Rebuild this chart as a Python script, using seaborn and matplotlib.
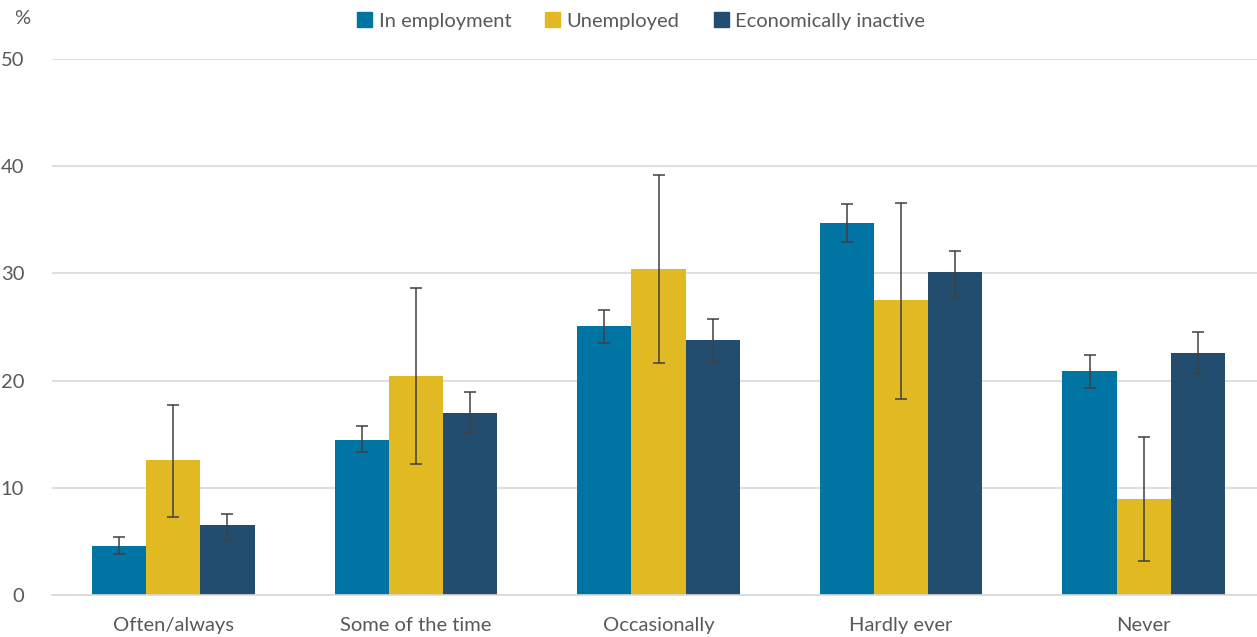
import matplotlib
matplotlib.use("Agg")
import matplotlib.pyplot as plt
import seaborn as sns
import pandas as pd
import numpy as np

categories = ["Often/always", "Some of the time", "Occasionally", "Hardly ever", "Never"]
groups = ["In employment", "Unemployed", "Economically inactive"]

employed = [4.6, 14.5, 25.1, 34.7, 20.9]
employed_low = [3.8, 13.3, 23.5, 32.9, 19.3]
employed_high = [5.4, 15.8, 26.6, 36.5, 22.4]

unemployed = [12.6, 20.4, 30.4, 27.5, 9.0]
unemployed_low = [7.3, 12.2, 21.6, 18.3, 3.2]
unemployed_high = [17.7, 28.6, 39.2, 36.6, 14.7]

inactive = [6.5, 17.0, 23.8, 30.1, 22.6]
inactive_low = [5.1, 15.1, 21.7, 27.9, 20.6]
inactive_high = [7.6, 18.9, 25.7, 32.1, 24.5]

colors = ["#0074A3", "#E1BA23", "#224D6F"]
text_col = "#595959"

rows = []
for g, vals, lo, hi in zip(groups,
                           [employed, unemployed, inactive],
                           [employed_low, unemployed_low, inactive_low],
                           [employed_high, unemployed_high, inactive_high]):
    for c, v, l, h in zip(categories, vals, lo, hi):
        rows.append({"category": c, "group": g, "value": v, "low": l, "high": h})
df = pd.DataFrame(rows)

sns.set_style("white")
plt.rcParams["font.family"] = ["Lato", "DejaVu Sans"]

fig = plt.figure(figsize=(12.57, 6.37), dpi=100)
# plot area runs a little past the right edge, like the original
ax = fig.add_axes([52 / 1257, 1 - 595 / 637, 1213 / 1257, (595 - 59) / 637])

sns.barplot(data=df, x="category", y="value", hue="group", palette=colors,
            width=0.67, errorbar=None, linewidth=0, saturation=1, ax=ax)

# error bars from the bar positions drawn by seaborn
for container, g in zip(ax.containers, groups):
    sub = df[df["group"] == g].set_index("category").loc[categories]
    xs = [b.get_x() + b.get_width() / 2 for b in container]
    ys = sub["value"].values
    yerr = [ys - sub["low"].values, sub["high"].values - ys]
    ax.errorbar(xs, ys, yerr=yerr, fmt="none", ecolor="#404040",
                elinewidth=1.1, capsize=4, capthick=1.1, zorder=5, clip_on=False)

ax.set_ylim(0, 50)
ax.set_xlim(-0.5, len(categories) - 0.5)
ax.set_yticks(range(0, 51, 10))
ax.yaxis.grid(True, color="#D9D9D9", linewidth=1.2)
ax.set_axisbelow(True)
for s in ["top", "right", "left"]:
    ax.spines[s].set_visible(False)
ax.spines["bottom"].set_color("#D9D9D9")
ax.spines["bottom"].set_linewidth(1.2)

ax.set_xlabel("")
ax.set_ylabel("")
ax.tick_params(axis="y", length=0, labelsize=14.5, labelcolor=text_col, pad=20)
ax.tick_params(axis="x", which="major", length=0, labelsize=14.5, labelcolor=text_col, pad=16)
ax.set_xticks(np.arange(-0.5, len(categories), 1.0), minor=True)
ax.tick_params(axis="x", which="minor", length=8, color="#D9D9D9", width=1.2)

ax.get_legend().remove()
handles = [plt.Rectangle((0, 0), 1, 1, color=c) for c in colors]
fig.legend(handles, groups, loc="center", bbox_to_anchor=(0.51, 0.967), ncol=3,
           frameon=False, fontsize=14.5, handlelength=0.75, handleheight=0.75,
           handletextpad=0.3, columnspacing=1.7, labelcolor=text_col)

fig.text(22 / 1257, 1 - 19 / 637, "%", ha="center", va="center", fontsize=14.5, color=text_col)

fig.savefig("out.png", dpi=100)
